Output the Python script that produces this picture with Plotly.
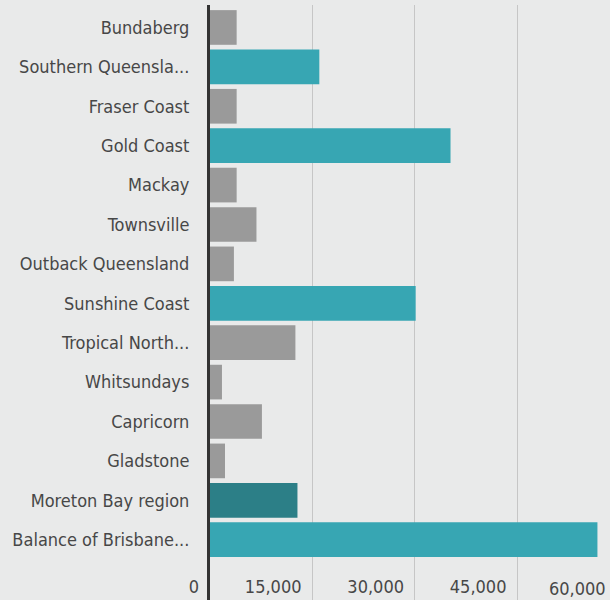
import plotly.graph_objects as go

categories = ["Bundaberg", "Southern Queensla...", "Fraser Coast", "Gold Coast", "Mackay",
              "Townsville", "Outback Queensland", "Sunshine Coast", "Tropical North...",
              "Whitsundays", "Capricorn", "Gladstone", "Moreton Bay region",
              "Balance of Brisbane..."]
values = [3900, 16000, 3900, 35200, 3900, 6800, 3500, 30100, 12500, 1750, 7600, 2200, 12800, 56700]
bar_colors = ["#9a9a9a", "#37a6b3", "#9a9a9a", "#37a6b3", "#9a9a9a", "#9a9a9a", "#9a9a9a",
              "#37a6b3", "#9a9a9a", "#9a9a9a", "#9a9a9a", "#9a9a9a", "#2c7f87", "#37a6b3"]
tick_vals = [0, 15000, 30000, 45000]
tick_text = ["0", "15,000", "30,000", "45,000"]
last_tick_text = "60,000"

FONT = "DejaVu Sans Condensed, DejaVu Sans, sans-serif"
BG = "#e9eaea"

fig = go.Figure(go.Bar(
    x=values, y=categories, orientation="h",
    marker=dict(color=bar_colors, line=dict(width=0)),
    hoverinfo="skip",
))

fig.update_layout(
    width=610, height=600,
    margin=dict(l=210, r=0, t=5, b=0),
    paper_bgcolor=BG, plot_bgcolor=BG,
    font=dict(family=FONT, size=18, color="#474747"),
    bargap=0.12,
    showlegend=False,
    xaxis=dict(
        range=[0, 58540],
        tickvals=tick_vals, ticktext=tick_text,
        showgrid=True, gridcolor="#c6c6c6", gridwidth=1,
        zeroline=False, showline=False,
        ticks="",
        anchor="free", position=0.043,
        ticklabelposition="outside left",
        ticklabelshift=-11,
    ),
    yaxis=dict(
        categoryorder="array", categoryarray=categories,
        range=[14.53, -0.57],
        showgrid=False, zeroline=False,
        showline=True, linecolor="#333333", linewidth=3,
        ticks="", ticklabelstandoff=14,
    ),
    annotations=[dict(
        xref="paper", yref="paper", x=1.0, y=0.02,
        xanchor="right", yanchor="middle", xshift=-2,
        text=last_tick_text, showarrow=False,
        font=dict(family=FONT, size=18, color="#474747"),
    )],
)

fig.write_html("out.html")
